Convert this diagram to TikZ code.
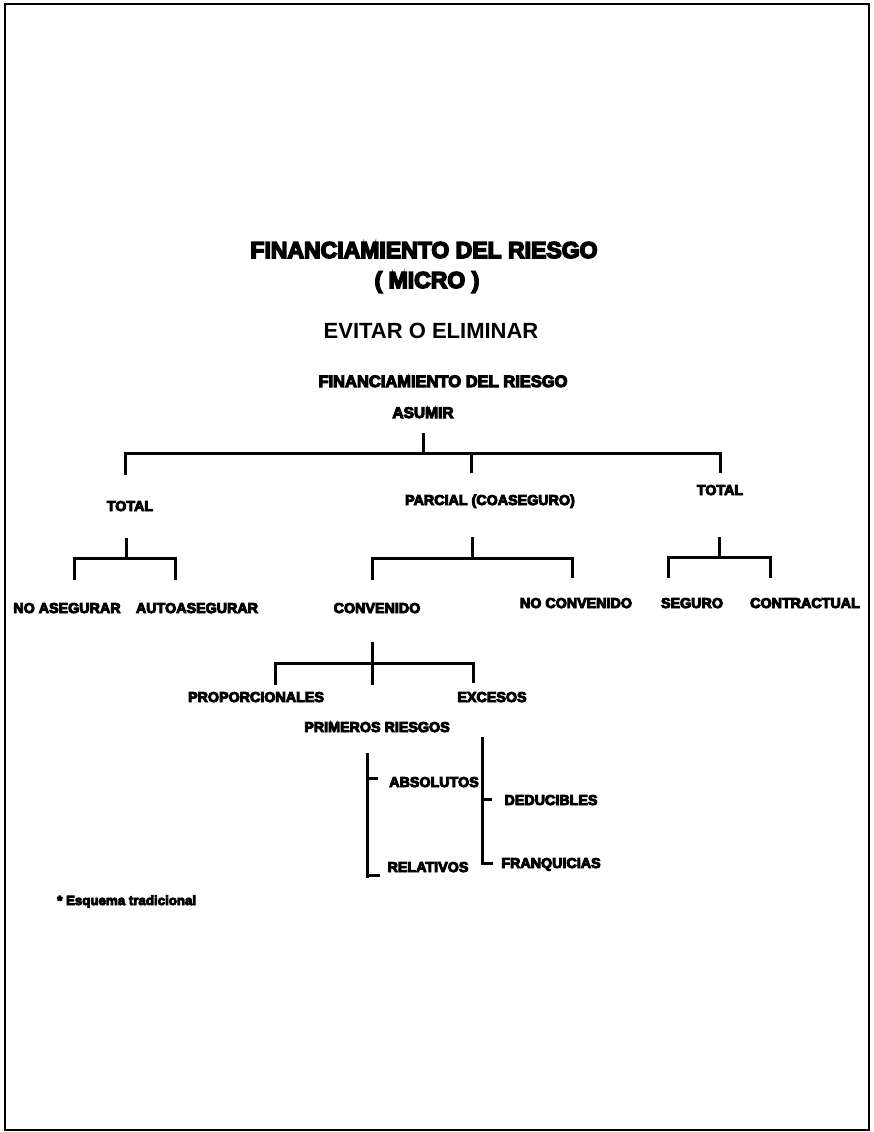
\documentclass[tikz,border=0pt]{standalone}
\usepackage{fontspec}
\setmainfont{Liberation Sans}
\newfontfamily\heavy{Liberation Sans}[BoldFeatures={FakeBold=6.5}]
\begin{document}
\begin{tikzpicture}[x=1pt,y=-1pt,
  lbl/.style={anchor=base,inner sep=0pt,font=\heavy\bfseries\fontsize{14.3}{16}\selectfont},
  ttl/.style={anchor=base,inner sep=0pt,font=\heavy\bfseries\fontsize{23}{26}\selectfont},
  sub/.style={anchor=base,inner sep=0pt,font=\bfseries\fontsize{22}{25}\selectfont},
  brk/.style={line width=3pt,line join=miter},
  frame/.style={line width=2.6pt}]
\useasboundingbox (0,0) rectangle (873,1132);
\draw[frame] (5,4) rectangle (869,1130);
% titles
\node[ttl] (t1) at (424,258) {FINANCIAMIENTO DEL RIESGO};
\node[ttl] (t2) at (427,288) {( MICRO )};
\node[sub] (t3) at (431,338) {EVITAR O ELIMINAR};
\node[lbl,font=\heavy\bfseries\fontsize{16.5}{18}\selectfont] (t4) at (443,387) {FINANCIAMIENTO DEL RIESGO};
\node[lbl,font=\heavy\bfseries\fontsize{15.5}{18}\selectfont] (asumir) at (423,418) {ASUMIR};
% level 1
\node[lbl] (tot1) at (130,511) {TOTAL};
\node[lbl] (parc) at (490,505) {PARCIAL (COASEGURO)};
\node[lbl] (tot2) at (720,495) {TOTAL};
% level 2
\node[lbl] (noas) at (67,613) {NO ASEGURAR};
\node[lbl] (auto) at (197,613) {AUTOASEGURAR};
\node[lbl] (conv) at (377,613) {CONVENIDO};
\node[lbl] (noconv) at (576,608) {NO CONVENIDO};
\node[lbl] (seg) at (692,608) {SEGURO};
\node[lbl] (contr) at (805,608) {CONTRACTUAL};
% level 3
\node[lbl] (prop) at (256,702) {PROPORCIONALES};
\node[lbl] (exc) at (492,702) {EXCESOS};
\node[lbl] (prim) at (377,732) {PRIMEROS RIESGOS};
\node[lbl] (abs) at (434,787) {ABSOLUTOS};
\node[lbl] (rel) at (428,872) {RELATIVOS};
\node[lbl] (ded) at (551,805) {DEDUCIBLES};
\node[lbl] (fra) at (551,868) {FRANQUICIAS};
\node[anchor=base west,inner sep=0pt,font=\heavy\bfseries\fontsize{13.3}{15}\selectfont] (nota) at (57,905) {* Esquema tradicional};
% bracket coordinates
\coordinate (a0) at (423,433); \coordinate (a1) at (423,453);
\coordinate (aL) at (125,475); \coordinate (aM) at (471,473); \coordinate (aR) at (720,473);
\coordinate (b0) at (126,538); \coordinate (b1) at (126,558);
\coordinate (bL) at (74,580); \coordinate (bR) at (175,580);
\coordinate (c0) at (472,537); \coordinate (c1) at (472,558);
\coordinate (cL) at (372,580); \coordinate (cR) at (572,578);
\coordinate (d0) at (719,537); \coordinate (d1) at (719,557);
\coordinate (dL) at (668,578); \coordinate (dR) at (770,578);
\coordinate (e0) at (372,642); \coordinate (e1) at (372,685); \coordinate (em) at (372,663);
\coordinate (eL) at (275,685); \coordinate (eR) at (473,683);
\coordinate (f0) at (367,753); \coordinate (f1) at (367,878);
\coordinate (g0) at (482,737); \coordinate (g1) at (482,863);
% main bracket
\draw[brk] (a0) -- (a1);
\draw[brk] (aL) |- (a1) -| (aR);
\draw[brk] (aM) |- (a1);
% left TOTAL
\draw[brk] (b0) -- (b1);
\draw[brk] (bL) |- (b1) -| (bR);
% PARCIAL
\draw[brk] (c0) -- (c1);
\draw[brk] (cL) |- (c1) -| (cR);
% right TOTAL
\draw[brk] (d0) -- (d1);
\draw[brk] (dL) |- (d1) -| (dR);
% CONVENIDO cross
\draw[brk] (e0) -- (e1);
\draw[brk] (eL) |- (em) -| (eR);
% PRIMEROS RIESGOS bar
\draw[brk] (f0) -- (f1);
\draw[brk] (367,778) -- (378,778);
\draw[brk] (367,875) -- (380,875);
% EXCESOS bar
\draw[brk] (g0) -- (g1) -- (493,863);
\draw[brk] (482,799) -- (492,799);
\end{tikzpicture}
\end{document}
